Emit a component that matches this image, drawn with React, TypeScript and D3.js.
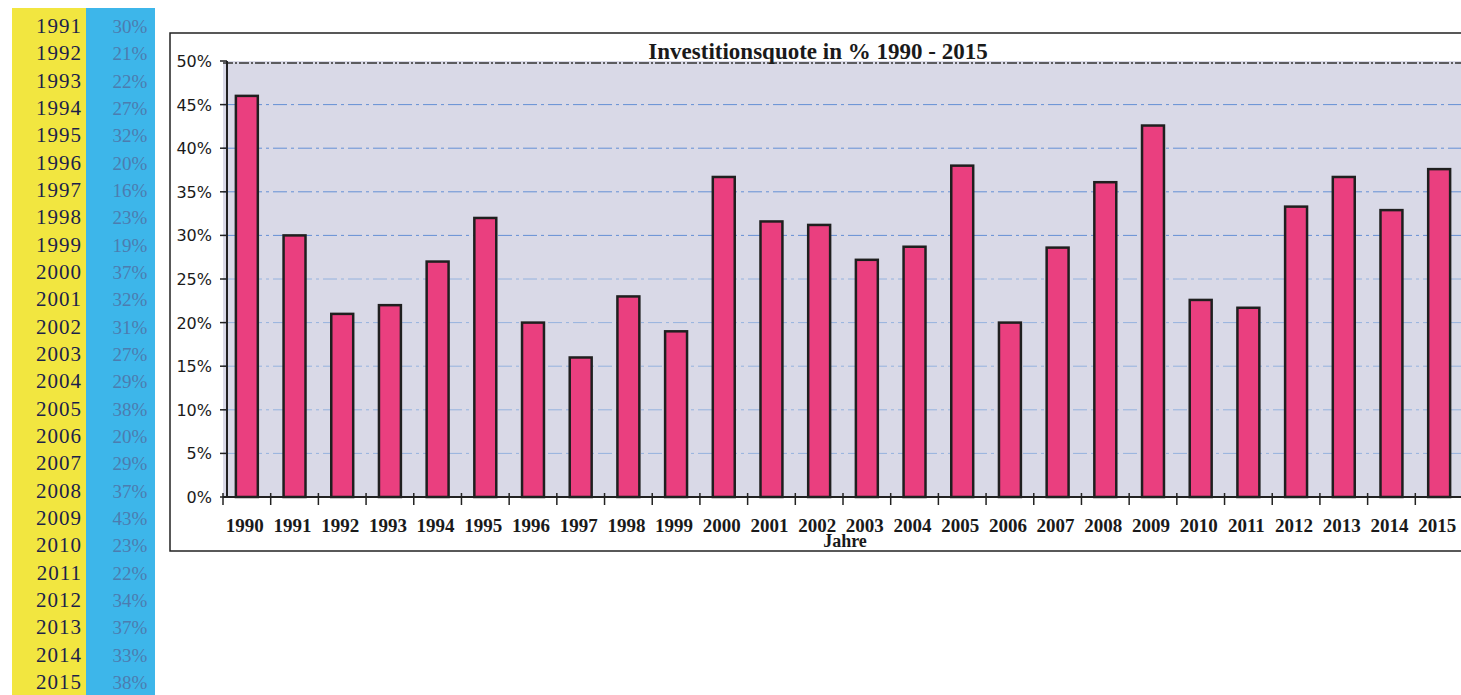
import React from 'react';
import * as d3 from 'd3';

// chart data
const years = ['1990', '1991', '1992', '1993', '1994', '1995', '1996', '1997', '1998', '1999', '2000', '2001', '2002', '2003', '2004', '2005', '2006', '2007', '2008', '2009', '2010', '2011', '2012', '2013', '2014', '2015'];
const quote = [46, 30, 21, 22, 27, 32, 20, 16, 23, 19, 36.7, 31.6, 31.2, 27.2, 28.7, 38, 20, 28.6, 36.1, 42.6, 22.6, 21.7, 33.3, 36.7, 32.9, 37.6];
const yTicks = [0, 5, 10, 15, 20, 25, 30, 35, 40, 45, 50];

// side table (scan, 1991-2015)
const tableYears = ['1991', '1992', '1993', '1994', '1995', '1996', '1997', '1998', '1999', '2000', '2001', '2002', '2003', '2004', '2005', '2006', '2007', '2008', '2009', '2010', '2011', '2012', '2013', '2014', '2015'];
const tableValues = ['30%', '21%', '22%', '27%', '32%', '20%', '16%', '23%', '19%', '37%', '32%', '31%', '27%', '29%', '38%', '20%', '29%', '37%', '43%', '23%', '22%', '34%', '37%', '33%', '38%'];

const W = 1461;
const H = 695;
const plot = { left: 223, right: 1463, top: 61, bottom: 497 };

const serif = '"Liberation Serif", "DejaVu Serif", serif';
const sans = '"DejaVu Sans", "Liberation Sans", sans-serif';

const App: React.FC = () => {
  const x = d3.scaleBand<string>()
    .domain(years)
    .range([plot.left, plot.right])
    .paddingInner(0.54)
    .paddingOuter(0.27);
  const step = x.step();

  const y = d3.scaleLinear().domain([0, 50]).range([plot.bottom, plot.top]);

  const row = d3.scalePoint<string>().domain(tableYears).range([26, 682]);

  return (
    <svg width={W} height={H} style={{ position: 'absolute', left: 0, top: 0, background: '#fff' }}>
      {/* left table */}
      <rect x={12} y={8} width={74} height={H - 8} fill="#f2e640" />
      <rect x={86} y={8} width={69} height={H - 8} fill="#3db6ea" />
      {tableYears.map((yr, i) => (
        <g key={yr}>
          <text x={82} y={(row(yr) || 0) + 7} textAnchor="end" fontFamily={serif} fontSize={21} letterSpacing={1} fill="#1c1f4a">{yr}</text>
          <text x={130} y={(row(yr) || 0) + 7} textAnchor="middle" fontFamily={serif} fontSize={19} fill="#4c7cb0">{tableValues[i]}</text>
        </g>
      ))}

      {/* chart frame */}
      <rect x={170} y={33} width={W} height={518} fill="#fff" stroke="#222" strokeWidth={1.5} />

      {/* plot area */}
      <rect x={plot.left} y={plot.top} width={plot.right - plot.left} height={plot.bottom - plot.top} fill="#d9d9e7" />
      {yTicks.filter(t => t > 0 && t < 50).map(t => (
        <line key={t} x1={plot.left} x2={plot.right} y1={y(t)} y2={y(t)}
          stroke={t >= 30 ? '#3f78cf' : '#7fa6dc'} strokeWidth={1} strokeDasharray="14,4,3,4" opacity={0.75} />
      ))}
      <line x1={plot.left} x2={plot.right} y1={y(50) + 2} y2={y(50) + 2} stroke="#333" strokeWidth={1.5} strokeDasharray="10,2,2,2" />

      {/* bars */}
      {years.map((yr, i) => (
        <rect key={yr} x={x(yr)} y={y(quote[i])} width={x.bandwidth()} height={y(0) - y(quote[i])}
          fill="#ea3f7f" stroke="#1f1f1f" strokeWidth={2.5} />
      ))}

      {/* y axis */}
      <line x1={plot.left + 4} x2={plot.left + 4} y1={plot.top} y2={plot.bottom} stroke="#222" strokeWidth={2} />
      {yTicks.map(t => (
        <g key={t}>
          <line x1={plot.left - 3} x2={plot.left + 4} y1={y(t)} y2={y(t)} stroke="#222" strokeWidth={1.5} />
          <text x={212} y={y(t) + 6} textAnchor="end" fontFamily={sans} fontSize={16} fill="#1a1a1a">{t}%</text>
        </g>
      ))}

      {/* x axis */}
      <line x1={plot.left} x2={plot.right} y1={plot.bottom} y2={plot.bottom} stroke="#222" strokeWidth={2} />
      {d3.range(years.length + 1).map(i => (
        <line key={i} x1={plot.left + i * step} x2={plot.left + i * step} y1={plot.bottom - 4} y2={plot.bottom + 8} stroke="#222" strokeWidth={1.5} />
      ))}
      {years.map(yr => (
        <text key={yr} x={(x(yr) || 0) + x.bandwidth() / 2 - 2} y={532} textAnchor="middle"
          fontFamily={serif} fontWeight="bold" fontSize={19} fill="#1a1a1a">{yr}</text>
      ))}
      <text x={845} y={547} textAnchor="middle" fontFamily={serif} fontWeight="bold" fontSize={18} fill="#1a1a1a">Jahre</text>

      {/* title */}
      <text x={818} y={59} textAnchor="middle" fontFamily={serif} fontWeight="bold" fontSize={23} fill="#1a1a1a">
        Investitionsquote in % 1990 - 2015
      </text>
    </svg>
  );
};

export default App;
